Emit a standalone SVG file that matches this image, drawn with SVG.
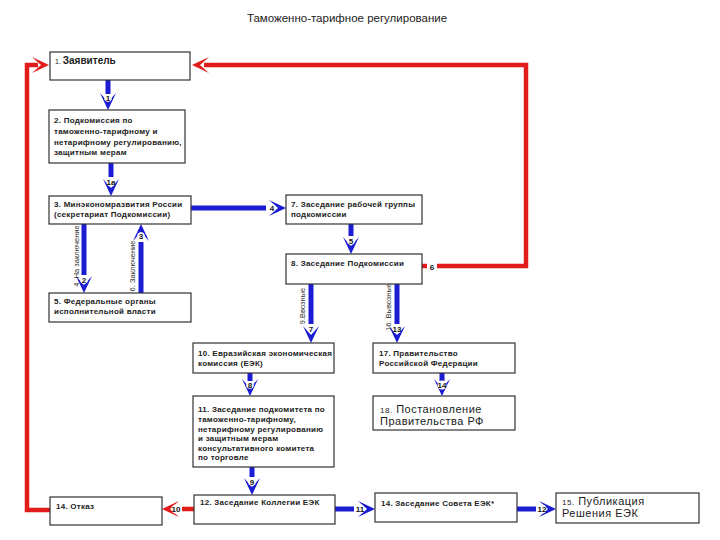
<svg xmlns="http://www.w3.org/2000/svg" width="720" height="540" viewBox="0 0 720 540">
<style>
.box{fill:#fff;stroke:#333;stroke-width:1.2}
.t{font-family:"Liberation Sans",Arial,sans-serif;font-size:8px;font-weight:bold;fill:#222;letter-spacing:0.25px}
.tb{font-family:"Liberation Sans",Arial,sans-serif;font-size:11px;fill:#222;letter-spacing:0.5px}
.rot{font-family:"Liberation Sans",Arial,sans-serif;font-size:7.5px;fill:#333}
.bl{stroke:#1c1cd2;stroke-width:5;fill:none}
.rd{stroke:#e21b1b;stroke-width:4.5;fill:none}
.num{font-family:"Liberation Sans",Arial,sans-serif;font-size:8px;font-weight:bold;fill:#111;text-anchor:middle}
.lb{fill:#fff}
</style>
<defs>
<path id="ah" d="M-8,-17 L0,0 L8,-17 L0,-8 Z"/>
</defs>
<rect width="720" height="540" fill="#fff"/>
<text x="347" y="22" text-anchor="middle" font-family="'Liberation Sans',Arial,sans-serif" font-size="11.5" fill="#222">Таможенно-тарифное регулирование</text>

<g id="connectors">
  <!-- red feedback 6 -->
  <polyline class="rd" points="421,266 427,266"/>
  <text class="num" x="432" y="270" font-size="9">6</text>
  <polyline class="rd" points="437,266 526,266 526,65 204,65"/>
  <use href="#ah" fill="#e21b1b" transform="translate(192,65) rotate(90)"/>
  <!-- red left loop -->
  <polyline class="rd" points="50,510 27,510 27,65 38,65"/>
  <use href="#ah" fill="#e21b1b" transform="translate(49,65) rotate(-90)"/>
  <!-- 1 -->
  <line class="bl" x1="108" y1="80" x2="108" y2="94"/>
  <use href="#ah" fill="#1c1cd2" transform="translate(108,110)"/>
  <circle class="lb" cx="108" cy="98" r="3.8"/>
  <text class="num" x="108" y="101">1</text>
  <!-- 1a -->
  <line class="bl" x1="111" y1="163" x2="111" y2="177"/>
  <use href="#ah" fill="#1c1cd2" transform="translate(111,196)"/>
  <circle class="lb" cx="111" cy="182" r="4.5"/>
  <text class="num" x="111" y="185">1а</text>
  <!-- 4 horizontal -->
  <line class="bl" x1="191" y1="208" x2="266" y2="208"/>
  <use href="#ah" fill="#1c1cd2" transform="translate(286,208) rotate(-90)"/>
  <circle class="lb" cx="272" cy="208" r="3.8"/>
  <text class="num" x="272" y="211">4</text>
  <!-- 5 -->
  <line class="bl" x1="351" y1="224" x2="351" y2="236"/>
  <use href="#ah" fill="#1c1cd2" transform="translate(351,254)"/>
  <circle class="lb" cx="351" cy="241" r="3.8"/>
  <text class="num" x="351" y="244">5</text>
  <!-- 2 down (На заключение) -->
  <line class="bl" x1="84" y1="224" x2="84" y2="275"/>
  <use href="#ah" fill="#1c1cd2" transform="translate(84,293)"/>
  <circle class="lb" cx="84" cy="280" r="3.8"/>
  <text class="num" x="84" y="283">2</text>
  <text class="rot" transform="translate(79,256) rotate(-90)" text-anchor="middle">4. На заключение</text>
  <!-- 3 up (Заключение) -->
  <line class="bl" x1="141" y1="293" x2="141" y2="242"/>
  <use href="#ah" fill="#1c1cd2" transform="translate(141,224) rotate(180)"/>
  <circle class="lb" cx="141" cy="236" r="3.8"/>
  <text class="num" x="141" y="239">3</text>
  <text class="rot" transform="translate(135,266) rotate(-90)" text-anchor="middle">6. Заключение</text>
  <!-- 7 -->
  <line class="bl" x1="311" y1="284" x2="311" y2="324"/>
  <use href="#ah" fill="#1c1cd2" transform="translate(311,343)"/>
  <circle class="lb" cx="311" cy="329" r="3.8"/>
  <text class="num" x="311" y="332">7</text>
  <text class="rot" transform="translate(305,306) rotate(-90)" text-anchor="middle">9.Ввозные</text>
  <!-- 13 -->
  <line class="bl" x1="397" y1="284" x2="397" y2="324"/>
  <use href="#ah" fill="#1c1cd2" transform="translate(397,343)"/>
  <circle class="lb" cx="397" cy="329" r="4.5"/>
  <text class="num" x="397" y="332">13</text>
  <text class="rot" transform="translate(391,307) rotate(-90)" text-anchor="middle">16. Вывозные</text>
  <!-- 8 -->
  <line class="bl" x1="250" y1="373" x2="250" y2="381"/>
  <use href="#ah" fill="#1c1cd2" transform="translate(250,396)"/>
  <circle class="lb" cx="250" cy="385" r="3.8"/>
  <text class="num" x="250" y="388">8</text>
  <!-- 14 -->
  <line class="bl" x1="442" y1="373" x2="442" y2="381"/>
  <use href="#ah" fill="#1c1cd2" transform="translate(442,396)"/>
  <circle class="lb" cx="442" cy="385" r="4.5"/>
  <text class="num" x="442" y="388">14</text>
  <!-- 9 -->
  <line class="bl" x1="252" y1="467" x2="252" y2="477"/>
  <use href="#ah" fill="#1c1cd2" transform="translate(252,495)"/>
  <circle class="lb" cx="252" cy="482" r="3.8"/>
  <text class="num" x="252" y="485">9</text>
  <!-- 10 red left -->
  <line class="rd" x1="194" y1="509" x2="182" y2="509"/>
  <use href="#ah" fill="#e21b1b" transform="translate(162,509) rotate(90)"/>
  <circle class="lb" cx="176" cy="509" r="4.5"/>
  <text class="num" x="176" y="512">10</text>
  <!-- 11 -->
  <line class="bl" x1="335" y1="509" x2="354" y2="509"/>
  <use href="#ah" fill="#1c1cd2" transform="translate(375,509) rotate(-90)"/>
  <circle class="lb" cx="360" cy="509" r="4.5"/>
  <text class="num" x="360" y="512">11</text>
  <!-- 12 -->
  <line class="bl" x1="517" y1="509" x2="536" y2="509"/>
  <use href="#ah" fill="#1c1cd2" transform="translate(556,509) rotate(-90)"/>
  <circle class="lb" cx="542" cy="509" r="4.5"/>
  <text class="num" x="542" y="512">12</text>
</g>

<g id="n1"><rect class="box" x="50" y="52" width="140" height="28"/>
<text x="55" y="64" font-family="'Liberation Sans',Arial,sans-serif" font-size="7" fill="#222">1. <tspan font-size="10" font-weight="bold">Заявитель</tspan></text></g>
<g id="n2"><rect class="box" x="49" y="110" width="136" height="53"/>
<text class="t" x="54" y="123">2. Подкомиссия по</text>
<text class="t" x="54" y="134">таможенно-тарифному и</text>
<text class="t" x="54" y="145">нетарифному регулированию,</text>
<text class="t" x="54" y="155">защитным мерам</text></g>
<g id="n3"><rect class="box" x="49" y="196" width="142" height="28"/>
<text class="t" x="54" y="207">3. Минэкономразвития России</text>
<text class="t" x="54" y="217">(секретариат Подкомиссии)</text></g>
<g id="n7"><rect class="box" x="286" y="195" width="136" height="29"/>
<text class="t" x="291" y="207">7. Заседание рабочей группы</text>
<text class="t" x="291" y="217">подкомиссии</text></g>
<g id="n8"><rect class="box" x="286" y="254" width="136" height="30"/>
<text class="t" x="291" y="266">8. Заседание Подкомиссии</text></g>
<g id="n5"><rect class="box" x="49" y="293" width="142" height="29"/>
<text class="t" x="54" y="304">5. Федеральные органы</text>
<text class="t" x="54" y="314">исполнительной власти</text></g>
<g id="n10"><rect class="box" x="193" y="343" width="141" height="30"/>
<text class="t" x="198" y="356">10. Евразийская экономическая</text>
<text class="t" x="198" y="366">комиссия (ЕЭК)</text></g>
<g id="n17"><rect class="box" x="373" y="343" width="142" height="30"/>
<text class="t" x="379" y="356">17. Правительство</text>
<text class="t" x="379" y="366">Российской Федерации</text></g>
<g id="n11"><rect class="box" x="193" y="396" width="141" height="71"/>
<text class="t" x="198" y="412">11. Заседание подкомитета по</text>
<text class="t" x="198" y="422">таможенно-тарифному,</text>
<text class="t" x="198" y="432">нетарифному регулированию</text>
<text class="t" x="198" y="441">и защитным мерам</text>
<text class="t" x="198" y="451">консультативного комитета</text>
<text class="t" x="198" y="460">по торговле</text></g>
<g id="n18"><rect class="box" x="373" y="396" width="142" height="34"/>
<text class="tb" x="380" y="413"><tspan font-size="8">18.</tspan> Постановление</text>
<text class="tb" x="380" y="425">Правительства РФ</text></g>
<g id="n14a"><rect class="box" x="50" y="497" width="112" height="28"/>
<text class="t" x="56" y="509" font-weight="normal">14. Отказ</text></g>
<g id="n12"><rect class="box" x="194" y="495" width="141" height="29"/>
<text class="t" x="200" y="505">12. Заседание Коллегии ЕЭК</text></g>
<g id="n14b"><rect class="box" x="375" y="493" width="142" height="29"/>
<text class="t" x="381" y="506">14. Заседание Совета ЕЭК*</text></g>
<g id="n15"><rect class="box" x="556" y="493" width="143" height="30"/>
<text class="tb" x="562" y="505"><tspan font-size="8">15.</tspan> Публикация</text>
<text class="tb" x="562" y="517">Решения ЕЭК</text></g>
</svg>
